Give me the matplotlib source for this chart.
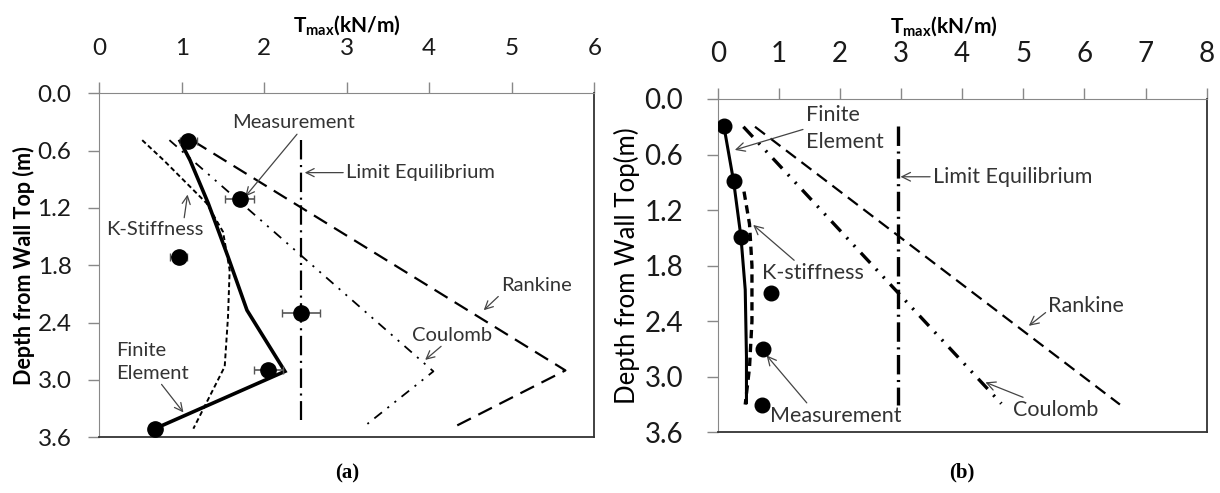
import matplotlib
matplotlib.use("Agg")
import matplotlib.pyplot as plt

plt.rcParams['font.family'] = ['Lato', 'DejaVu Sans']
plt.rcParams['mathtext.fontset'] = 'custom'
plt.rcParams['mathtext.rm'] = 'Lato'
plt.rcParams['mathtext.bf'] = 'Lato:bold'
plt.rcParams['lines.scale_dashes'] = False

# ---- panel (a) data ----
a_meas_x = [1.08, 1.70, 0.96, 2.44, 2.05, 0.675]
a_meas_y = [0.50, 1.11, 1.71, 2.30, 2.90, 3.51]
a_meas_err = [0.10, 0.18, 0.10, 0.23, 0.18, 0.0]
a_fe_x = [0.98, 1.10, 1.32, 1.56, 1.79, 2.25, 0.70]
a_fe_y = [0.50, 0.70, 1.15, 1.71, 2.27, 2.91, 3.50]
a_ks_x = [0.52, 0.78, 1.30, 1.50, 1.58, 1.56, 1.52, 1.14]
a_ks_y = [0.49, 0.70, 1.15, 1.45, 1.85, 2.34, 2.86, 3.51]
a_rank_x = [1.14, 5.65, 4.26]
a_rank_y = [0.50, 2.90, 3.51]
a_coul_x = [0.85, 4.05, 3.25]
a_coul_y = [0.49, 2.91, 3.46]
a_le_x = [2.44, 2.44]
a_le_y = [0.49, 3.42]

# ---- panel (b) data ----
b_meas_x = [0.10, 0.26, 0.38, 0.87, 0.74, 0.72]
b_meas_y = [0.29, 0.89, 1.49, 2.10, 2.70, 3.30]
b_fe_x = [0.10, 0.26, 0.38, 0.45, 0.47, 0.47]
b_fe_y = [0.29, 0.89, 1.49, 2.06, 2.78, 3.28]
b_ks_x = [0.43, 0.52, 0.56, 0.56, 0.52, 0.45]
b_ks_y = [1.00, 1.35, 1.80, 2.40, 2.90, 3.30]
b_rank_x = [0.61, 6.58]
b_rank_y = [0.30, 3.30]
b_coul_x = [0.42, 4.64]
b_coul_y = [0.30, 3.29]
b_le_x = [2.95, 2.95]
b_le_y = [0.29, 3.30]

y_ticks = [0.0, 0.6, 1.2, 1.8, 2.4, 3.0, 3.6]

fig = plt.figure(figsize=(12.2, 4.93), dpi=100)
ax_a = fig.add_axes([0.0814, 0.1130, 0.4057, 0.6977])
ax_b = fig.add_axes([0.5883, 0.1231, 0.4008, 0.6761])

arr = dict(arrowstyle='->', color='#444444', lw=0.9, shrinkA=0, shrinkB=0)


def style_axes(ax, xmax, size, tlen, xpad, ypad):
    ax.set_xlim(0, xmax)
    ax.set_ylim(3.6, 0)
    ax.xaxis.tick_top()
    ax.xaxis.set_label_position('top')
    ax.set_xticks(range(0, xmax + 1))
    ax.set_yticks(y_ticks)
    ax.set_yticklabels(['%.1f' % v for v in y_ticks])
    ax.tick_params(axis='both', direction='out', length=tlen, width=1,
                   color='#888888', labelsize=size, labelcolor='#1a1a1a')
    ax.tick_params(axis='x', pad=xpad)
    ax.tick_params(axis='y', pad=ypad)
    for s in ['left', 'top']:
        ax.spines[s].set_color('#888888')
    for s in ['right', 'bottom']:
        ax.spines[s].set_color('#333333')
        ax.spines[s].set_linewidth(1.3)


# ---------------- panel (a) ----------------
ax = ax_a
style_axes(ax, 6, 17.5, 8, 17, 12)
ax.set_xlabel(r'$\mathbf{T_{max}(kN/m)}$', fontsize=15, labelpad=4)
ann = dict(fontsize=14.5, color='#333333')
ax.plot(a_le_x, a_le_y, color='black', lw=1.6, ls=(0, (14, 4, 1.5, 4)))
ax.plot(a_rank_x, a_rank_y, color='black', lw=1.6, ls=(0, (11, 6)))
ax.plot(a_coul_x, a_coul_y, color='black', lw=1.3, ls=(0, (7, 5, 1.5, 5, 1.5, 5)))
ax.plot(a_ks_x, a_ks_y, color='black', lw=1.4, ls=(0, (3.5, 2.2)))
ax.plot(a_fe_x, a_fe_y, color='black', lw=2.6, solid_joinstyle='miter')
ax.errorbar(a_meas_x, a_meas_y, xerr=a_meas_err, fmt='o', color='black',
            ms=11, ecolor='#555555', elinewidth=1.2, capsize=3, zorder=5)
ax.set_ylabel('Depth from Wall Top (m)', fontsize=15.5, fontweight='bold', labelpad=2)

ax.annotate('Measurement', xy=(1.77, 1.08), xytext=(2.35, 0.31),
            ha='center', va='center', arrowprops=dict(arr, relpos=(0.55, 0.0)), **ann)
ax.annotate('Limit Equilibrium', xy=(2.49, 0.83), xytext=(2.99, 0.83),
            ha='left', va='center', arrowprops=dict(arr, relpos=(0.0, 0.5)), **ann)
ax.annotate('K-Stiffness', xy=(1.07, 1.06), xytext=(0.67, 1.42),
            ha='center', va='center', arrowprops=dict(arr, relpos=(0.8, 1.0)), **ann)
ax.annotate('Rankine', xy=(4.66, 2.27), xytext=(4.87, 2.01),
            ha='left', va='center', arrowprops=dict(arr, relpos=(0.0, 0.0)), **ann)
ax.annotate('Coulomb', xy=(3.95, 2.79), xytext=(4.28, 2.53),
            ha='center', va='center', arrowprops=dict(arr, relpos=(0.4, 0.0)), **ann)
ax.annotate('Finite\nElement', xy=(1.02, 3.34), xytext=(0.20, 2.81),
            ha='left', va='center', linespacing=1.4,
            arrowprops=dict(arr, relpos=(0.6, 0.0)), **ann)
ax.text(0.5, -0.075, '(a)', transform=ax.transAxes, ha='center', va='top',
        fontsize=15, fontweight='bold', family='Liberation Serif')

# ---------------- panel (b) ----------------
ax = ax_b
style_axes(ax, 8, 20, 8, 15, 17)
ax.set_xlabel(r'$\mathbf{T_{max}(kN/m)}$', fontsize=15)
ax.xaxis.set_label_coords(0.463, 1.20)
ann = dict(fontsize=15.5, color='#333333')
ax.plot(b_le_x, b_le_y, color='black', lw=2.4, ls=(0, (14, 4, 1.5, 4)))
ax.plot(b_rank_x, b_rank_y, color='black', lw=1.6, ls=(0, (9, 5)))
ax.plot(b_coul_x, b_coul_y, color='black', lw=2.4, ls=(0, (10, 6, 1.5, 6, 1.5, 6)))
ax.plot(b_ks_x, b_ks_y, color='black', lw=2.4, ls=(0, (6, 4)))
ax.plot(b_fe_x, b_fe_y, color='black', lw=2.2)
ax.plot(b_meas_x, b_meas_y, 'o', color='black', ms=10.5, zorder=5)
ax.set_ylabel('Depth from Wall Top(m)', fontsize=18.5, labelpad=3)

ax.annotate('Finite\nElement', xy=(0.28, 0.55), xytext=(1.44, 0.32),
            ha='left', va='center', linespacing=1.4,
            arrowprops=dict(arr, relpos=(0.0, 0.5)), **ann)
ax.annotate('Limit Equilibrium', xy=(2.99, 0.84), xytext=(3.52, 0.84),
            ha='left', va='center', arrowprops=dict(arr, relpos=(0.0, 0.5)), **ann)
ax.annotate('K-stiffness', xy=(0.58, 1.36), xytext=(0.72, 1.88),
            ha='left', va='center', arrowprops=dict(arr, relpos=(0.35, 1.0)), **ann)
ax.annotate('Rankine', xy=(5.09, 2.45), xytext=(5.41, 2.24),
            ha='left', va='center', arrowprops=dict(arr, relpos=(0.0, 0.3)), **ann)
ax.annotate('Coulomb', xy=(4.38, 3.06), xytext=(4.83, 3.36),
            ha='left', va='center', arrowprops=dict(arr, relpos=(0.2, 1.0)), **ann)
ax.annotate('Measurement', xy=(0.80, 2.77), xytext=(0.85, 3.42),
            ha='left', va='center', arrowprops=dict(arr, relpos=(0.3, 1.0)), **ann)
ax.text(0.5, -0.09, '(b)', transform=ax.transAxes, ha='center', va='top',
        fontsize=15, fontweight='bold', family='Liberation Serif')

fig.savefig('out.png', dpi=100)
